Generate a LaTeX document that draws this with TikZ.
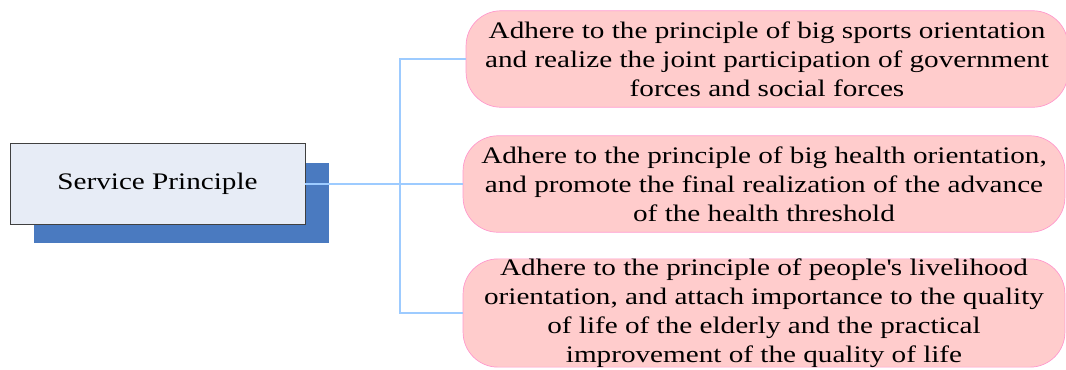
\documentclass[tikz,border=0pt]{standalone}
\usepackage{fontspec}
\setmainfont[FakeStretch=1.23]{Liberation Serif}
\usetikzlibrary{shadows}
\definecolor{headfill}{HTML}{E7ECF6}
\definecolor{headshadow}{HTML}{4A7AC0}
\definecolor{itemfill}{HTML}{FFCCCC}
\definecolor{itemdraw}{HTML}{FF99CC}
\definecolor{linkblue}{HTML}{9DCBFF}
\begin{document}
\begin{tikzpicture}[x=0.02cm,y=-0.02cm,
  head/.style={draw=black!75,fill=headfill,minimum width=5.9cm,minimum height=1.62cm,
    font=\fontsize{13.5}{16.4}\selectfont,
    drop shadow={shadow xshift=0.48cm,shadow yshift=-0.38cm,fill=headshadow,opacity=1}},
  item/.style={draw=itemdraw,fill=itemfill,rounded corners=0.7cm,minimum width=12.04cm,
    minimum height=1.93cm,align=center,inner sep=0pt,font=\fontsize{13.5}{16.4}\selectfont},
  link/.style={draw=linkblue,line width=0.8pt}]
\useasboundingbox (0,0) rectangle (1066,369);

\node[head] (main) at (157.5,184) {Service Principle};

\node[item] (b1) at (767,59) {Adhere to the principle of big sports orientation\\
  and realize the joint participation of government\\ forces and social forces};
\node[item] (b2) at (764,184) {Adhere to the principle of big health orientation,\\
  and promote the final realization of the advance\\ of the health threshold};
\node[item] (b3) at (764,313) {Adhere to the principle of people\textquotesingle s livelihood\\
  orientation, and attach importance to the quality\\ of life of the elderly and the practical\\
  improvement of the quality of life};

\coordinate (trunk) at (400,184);
\draw[link] (main.east) -- (b2.west);
\draw[link] (b1.west) -| (trunk) |- (b3.west);
\end{tikzpicture}
\end{document}
